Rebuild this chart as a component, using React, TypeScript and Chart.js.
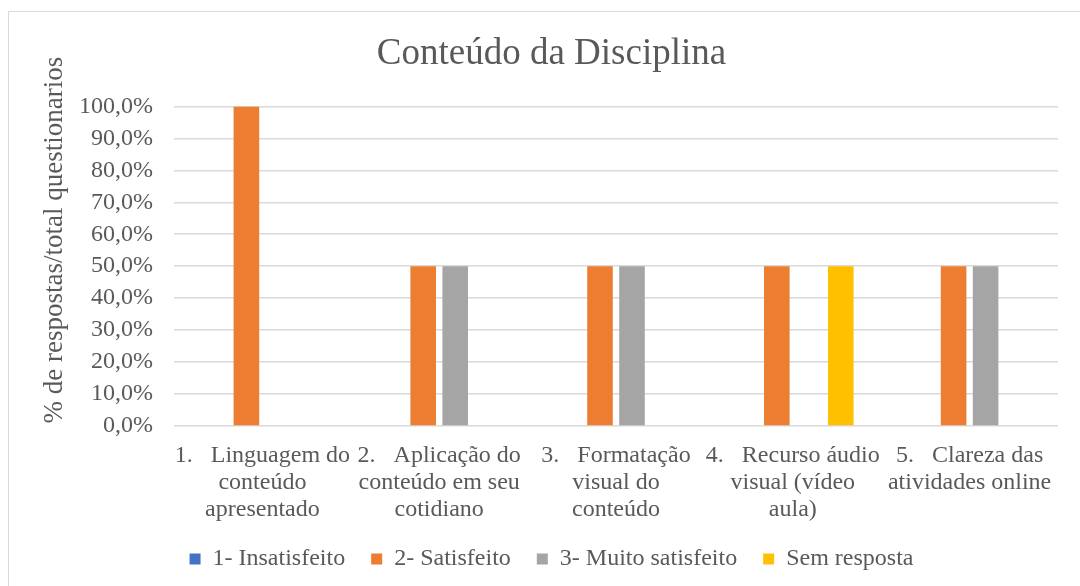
import React, { useEffect, useRef } from "react";
import { Chart, registerables } from "chart.js";

Chart.register(...registerables);

const TITLE = "Conteúdo da Disciplina";
const Y_TITLE = "% de respostas/total questionarios";

const categories: string[][] = [
  ["1.   Linguagem do", "conteúdo", "apresentado"],
  ["2.   Aplicação do", "conteúdo em seu", "cotidiano"],
  ["3.   Formatação", "visual do", "conteúdo"],
  ["4.   Recurso áudio", "visual (vídeo", "aula)"],
  ["5.   Clareza das", "atividades online"],
];

const seriesNames = ["1- Insatisfeito", "2- Satisfeito", "3- Muito satisfeito", "Sem resposta"];
const insatisfeito = [0, 0, 0, 0, 0];
const satisfeito = [100, 50, 50, 50, 50];
const muitoSatisfeito = [0, 50, 50, 0, 50];
const semResposta = [0, 0, 0, 50, 0];
const seriesColors = ["#4472C4", "#ED7D31", "#A5A5A5", "#FFC000"];

const yMin = 0;
const yMax = 100;
const yStep = 10;

const FONT = "'Liberation Serif', 'Times New Roman', serif";
const TEXT = "#595959";

const yTitlePlugin = {
  id: "yTitlePlugin",
  afterLayout(chart: any) {
    // let the multi-line category labels draw below the x-axis box (no clipping)
    const xs = chart.scales.x;
    if (xs) xs.bottom += 30;
  },
  afterDraw(chart: any) {
    const { ctx, chartArea } = chart;
    const ys = chart.scales.y;
    ctx.save();
    ctx.fillStyle = TEXT;
    ctx.font = `27px ${FONT}`;
    ctx.textAlign = "center";
    ctx.textBaseline = "middle";
    const cx = ys.left + 10;
    const cy = (chartArea.top + chartArea.bottom) / 2 - 26;
    ctx.translate(cx, cy);
    ctx.rotate(-Math.PI / 2);
    ctx.fillText(Y_TITLE, 0, 0);
    ctx.restore();
  },
};

export default function App() {
  const ref = useRef<HTMLCanvasElement | null>(null);

  useEffect(() => {
    if (!ref.current) return;
    const values = [insatisfeito, satisfeito, muitoSatisfeito, semResposta];
    const chart = new Chart(ref.current, {
      type: "bar",
      data: {
        labels: categories,
        datasets: seriesNames.map((name, i) => ({
          label: name,
          data: values[i],
          backgroundColor: seriesColors[i],
          borderWidth: 0,
          categoryPercentage: 0.724,
          barPercentage: 0.8,
        })),
      },
      plugins: [yTitlePlugin],
      options: {
        animation: false,
        responsive: false,
        maintainAspectRatio: false,
        layout: { padding: { left: 36, right: 22, top: 0, bottom: 5 } },
        plugins: {
          title: {
            display: true,
            text: TITLE,
            color: TEXT,
            font: { family: FONT, size: 37, weight: "normal" },
            padding: { top: 20, bottom: 30 },
          },
          legend: {
            position: "bottom",
            labels: {
              color: TEXT,
              font: { family: FONT, size: 24 },
              boxWidth: 11,
              boxHeight: 11,
              padding: 26,
            },
          },
          tooltip: { enabled: false },
        },
        scales: {
          x: {
            grid: { display: false },
            border: { display: false },
            ticks: {
              color: TEXT,
              font: { family: FONT, size: 24, lineHeight: 1.125 },
              maxRotation: 0,
              minRotation: 0,
              autoSkip: false,
              padding: 8,
            },
            afterFit: (s: any) => {
              s.height = 95;
            },
          },
          y: {
            min: yMin,
            max: yMax,
            grid: { color: "#d9d9d9", lineWidth: 1.5, drawTicks: false },
            border: { display: false },
            ticks: {
              stepSize: yStep,
              autoSkip: false,
              color: TEXT,
              font: { family: FONT, size: 24 },
              padding: 21,
              callback: (v: any) => Number(v).toFixed(1).replace(".", ",") + "%",
            },
            afterFit: (s: any) => {
              s.width = 129;
            },
          },
        },
      },
    });
    return () => chart.destroy();
  }, []);

  return (
    <div
      style={{
        position: "fixed",
        left: 8,
        top: 11,
        width: 1072,
        height: 575,
        borderTop: "1px solid #d9d9d9",
        borderLeft: "1px solid #d9d9d9",
        background: "#fff",
        boxSizing: "border-box",
      }}
    >
      <canvas ref={ref} width={1071} height={574} style={{ display: "block" }} />
    </div>
  );
}
